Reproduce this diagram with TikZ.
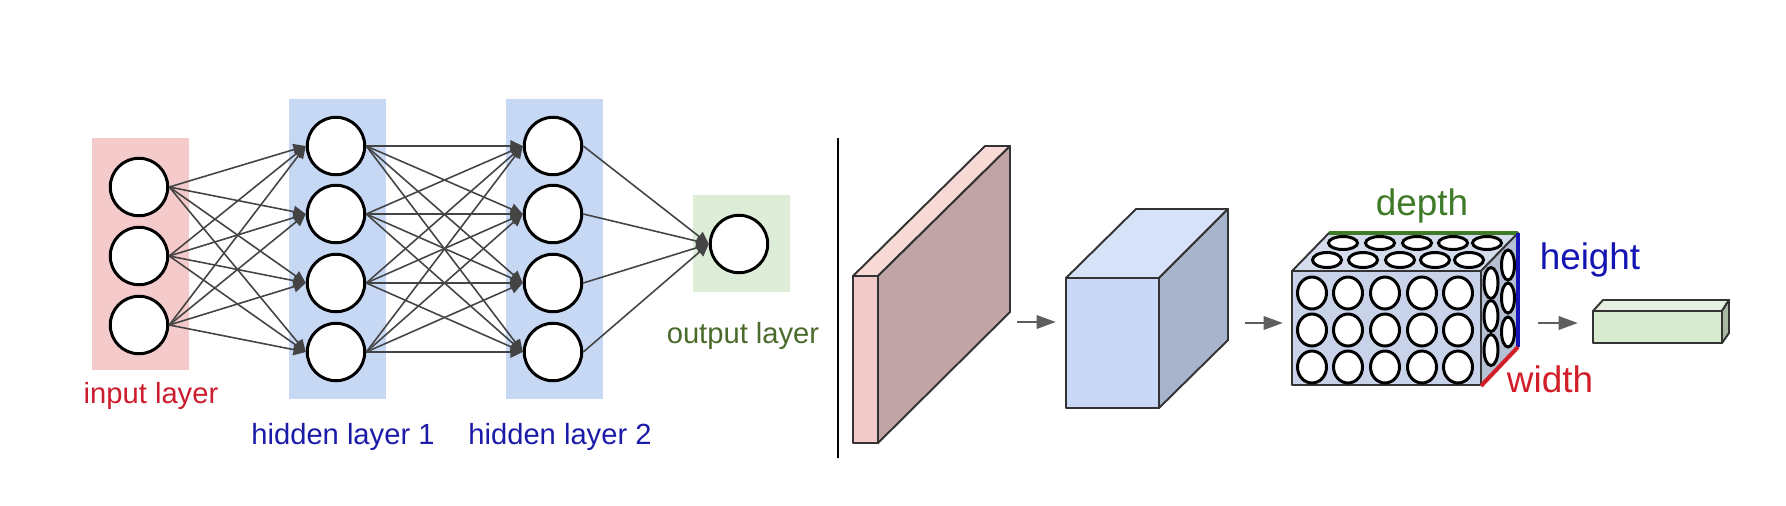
\documentclass[tikz,border=0pt]{standalone}
\usepackage{fontspec}
\setmainfont{Liberation Sans}
\usetikzlibrary{arrows.meta,positioning}
\definecolor{inkgray}{HTML}{333333}
\definecolor{edgegray}{HTML}{444444}
\definecolor{arrowgray}{HTML}{5E5E5E}
\definecolor{inbg}{HTML}{F5CACA}
\definecolor{hidbg}{HTML}{C7D8F5}
\definecolor{outbg}{HTML}{DEEDD8}
\definecolor{inred}{HTML}{CC1D2E}
\definecolor{hidblue}{HTML}{1B1BA8}
\definecolor{outgreen}{HTML}{4B6B2C}
\definecolor{depthgreen}{HTML}{3E7A27}
\definecolor{heightblue}{HTML}{1414B4}
\definecolor{widthred}{HTML}{D21E28}
\definecolor{slabfront}{HTML}{F2CACA}
\definecolor{slabtop}{HTML}{F7D9D5}
\definecolor{slabside}{HTML}{C0A4A6}
\definecolor{cubefront}{HTML}{C8D8F6}
\definecolor{cubetop}{HTML}{D6E2F8}
\definecolor{cubeside}{HTML}{A8B4CB}
\definecolor{volfront}{HTML}{C8D3EA}
\definecolor{voltop}{HTML}{D5DDEC}
\definecolor{volside}{HTML}{B6C0D4}
\definecolor{barfront}{HTML}{D7EBD0}
\definecolor{bartop}{HTML}{E6F0E0}
\definecolor{barside}{HTML}{A9B8A5}

\begin{document}
\begin{tikzpicture}[
    x=0.02cm, y=-0.02cm,
    neuron/.style={circle, draw=black, fill=white, line width=1.7pt,
                   minimum size=1.15cm, inner sep=0pt},
    link/.style={-{Triangle[length=7pt,width=6.5pt]}, line width=0.9pt, draw=edgegray, fill=edgegray},
    flow/.style={-{Triangle[length=11pt,width=7.5pt]}, line width=1.6pt, draw=arrowgray, fill=arrowgray},
    face/.style={draw=inkgray, line width=1.1pt, line join=round},
    cell/.style={draw=black, fill=white, line width=1.7pt},
    layername/.style={font=\fontsize{16.6}{20}\selectfont, inner sep=0pt},
    dimname/.style={font=\fontsize{21}{25}\selectfont, inner sep=0pt}
]
  \useasboundingbox (0,0) rectangle (1786,505);

  % layer backgrounds
  \fill[inbg] (92,138) rectangle (189,370);
  \fill[hidbg] (289,99) rectangle (386,399);
  \fill[hidbg] (506,99) rectangle (603,399);
  \fill[outbg] (693,195) rectangle (790,292);

  % neurons
  \foreach \y [count=\k] in {187,256,325}
    \node[neuron] (in\k) at (139,\y) {};
  \foreach \y [count=\k] in {146,214,283,352} {
    \node[neuron] (ha\k) at (336,\y) {};
    \node[neuron] (hb\k) at (553,\y) {};
  }
  \node[neuron] (out) at (739,244) {};

  % connections
  \foreach \i in {1,2,3}
    \foreach \j in {1,...,4}
      \draw[link] (in\i.east) -- (ha\j.west);
  \foreach \i in {1,...,4}
    \foreach \j in {1,...,4}
      \draw[link] (ha\i.east) -- (hb\j.west);
  \foreach \i in {1,...,4}
    \draw[link] (hb\i.east) -- (out.west);

  \node[layername, text=inred] (inlbl) at (151,396) {input layer};
  \node[layername, text=hidblue] (halbl) at (343,437) {hidden layer 1};
  \node[layername, text=hidblue] (hblbl) at (560,437) {hidden layer 2};
  \node[layername, text=outgreen] (outlbl) at (743,336) {output layer};

  % separator
  \draw[line width=1.1pt, black] (838,138) -- (838,458);

  % input slab
  \filldraw[face, fill=slabfront] (853,276) rectangle (878,443);
  \filldraw[face, fill=slabtop] (853,276) -- (985,146) -- (1010,146) -- (878,276) -- cycle;
  \filldraw[face, fill=slabside] (878,276) -- (1010,146) -- (1010,312) -- (878,443) -- cycle;

  % hidden cube
  \filldraw[face, fill=cubefront] (1066,278) rectangle (1159,408);
  \filldraw[face, fill=cubetop] (1066,278) -- (1136,209) -- (1228,209) -- (1159,278) -- cycle;
  \filldraw[face, fill=cubeside] (1159,278) -- (1228,209) -- (1228,340) -- (1159,408) -- cycle;

  % neuron volume
  \filldraw[face, fill=volfront] (1292,271) rectangle (1481,385);
  \filldraw[face, fill=voltop] (1292,271) -- (1329,233) -- (1518,233) -- (1481,271) -- cycle;
  \filldraw[face, fill=volside] (1481,271) -- (1518,233) -- (1518,347) -- (1481,385) -- cycle;
  \foreach \x in {1312,1348,1385,1422,1458}
    \foreach \y in {293,330,367}
      \draw[cell] (\x,\y) ellipse [x radius=14.5, y radius=16];
  \foreach \x in {1343,1380,1417,1453,1487}
    \draw[cell] (\x,243) ellipse [x radius=14.5, y radius=6.5];
  \foreach \x in {1327,1363,1400,1435,1469}
    \draw[cell] (\x,260) ellipse [x radius=14.5, y radius=7.5];
  \foreach \y in {265,298,332}
    \draw[cell] (1508,\y) ellipse [x radius=6.5, y radius=15];
  \foreach \y in {283,316,350}
    \draw[cell] (1491,\y) ellipse [x radius=7, y radius=15.5];
  \draw[depthgreen, line width=2.3pt] (1329,233) -- (1518,233);
  \draw[heightblue, line width=2.3pt] (1518,233) -- (1518,347);
  \draw[widthred, line width=2.3pt] (1481,386) -- (1518,347);
  \node[dimname, text=depthgreen] (depthlbl) at (1422,206) {depth};
  \node[dimname, text=heightblue] (heightlbl) at (1590,260) {height};
  \node[dimname, text=widthred] (widthlbl) at (1550,379) {width};

  % output bar
  \filldraw[face, fill=barfront] (1593,311) rectangle (1722,343);
  \filldraw[face, fill=bartop] (1593,311) -- (1603,300) -- (1729,300) -- (1722,311) -- cycle;
  \filldraw[face, fill=barside] (1722,311) -- (1729,300) -- (1729,333) -- (1722,343) -- cycle;

  % flow arrows
  \coordinate (a1s) at (1017,322);
  \coordinate (a1e) at (1056,322);
  \coordinate (a2s) at (1245,323);
  \coordinate (a2e) at (1283,323);
  \coordinate (a3s) at (1538,323);
  \coordinate (a3e) at (1578,323);
  \draw[flow] (a1s) -- (a1e);
  \draw[flow] (a2s) -- (a2e);
  \draw[flow] (a3s) -- (a3e);
\end{tikzpicture}
\end{document}
